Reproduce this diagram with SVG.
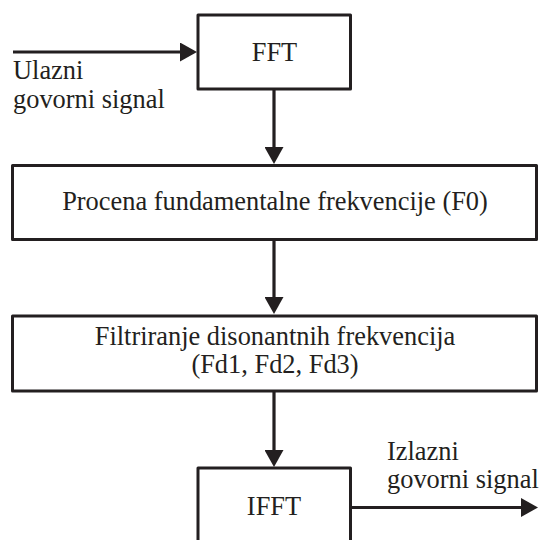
<svg xmlns="http://www.w3.org/2000/svg" width="539" height="540" viewBox="0 0 539 540">
<style>
.box{fill:#fff;stroke:#231f20;stroke-width:3;stroke-linejoin:round}
.ln{fill:none;stroke:#231f20;stroke-width:3.2;marker-end:url(#ah)}
.t{font-family:'Liberation Serif',serif;font-size:26.4px;fill:#231f20}
.c{text-anchor:middle}
</style>
<defs>
<marker id="ah" viewBox="0 0 17 19" refX="3" refY="9.5" markerWidth="17" markerHeight="19" markerUnits="userSpaceOnUse" orient="auto">
<path d="M0 0 L17 9.5 L0 19 Z" fill="#231f20"/>
</marker>
</defs>
<rect width="539" height="540" fill="#fff"/>
<g id="connectors">
<path class="ln" d="M13 52 H183"/>
<path class="ln" d="M274 89 V150"/>
<path class="ln" d="M274 240 V300"/>
<path class="ln" d="M274 391 V453"/>
<path class="ln" d="M351 507.5 H524"/>
</g>
<g id="fft">
<rect class="box" x="198" y="15" width="152.5" height="74"/>
<text class="t c" x="274.5" y="61" font-family="Liberation Serif, serif">FFT</text>
</g>
<g id="f0">
<rect class="box" x="12.5" y="165.5" width="524" height="74"/>
<text class="t c" x="275" y="210" font-family="Liberation Serif, serif">Procena fundamentalne frekvencije (F0)</text>
</g>
<g id="filter">
<rect class="box" x="12.5" y="316" width="524" height="75"/>
<text class="t c" x="275" y="345" font-family="Liberation Serif, serif">Filtriranje disonantnih frekvencija</text>
<text class="t c" x="275" y="373" font-family="Liberation Serif, serif">(Fd1, Fd2, Fd3)</text>
</g>
<g id="ifft">
<rect class="box" x="198" y="468" width="152.5" height="90"/>
<text class="t c" x="274" y="515" font-family="Liberation Serif, serif">IFFT</text>
</g>
<g id="labels">
<text class="t" x="13" y="79" font-family="Liberation Serif, serif">Ulazni</text>
<text class="t" x="13" y="108" font-family="Liberation Serif, serif">govorni signal</text>
<text class="t" x="387" y="460" font-family="Liberation Serif, serif">Izlazni</text>
<text class="t" x="387" y="488" font-family="Liberation Serif, serif">govorni signal</text>
</g>
</svg>
